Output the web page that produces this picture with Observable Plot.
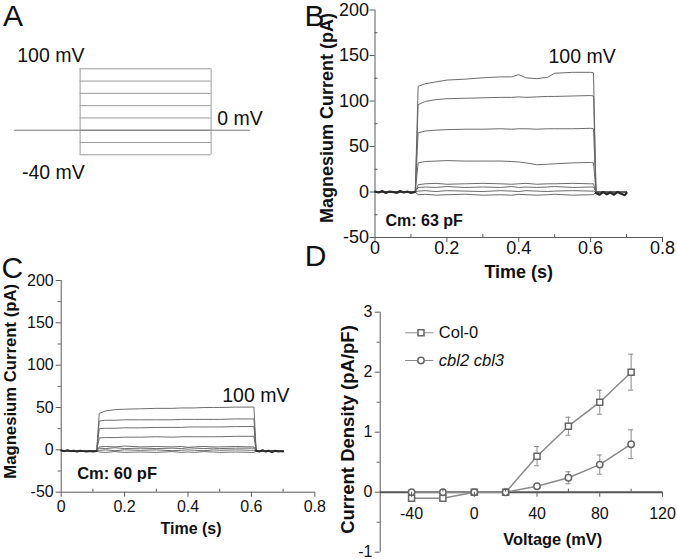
<!DOCTYPE html>
<html><head><meta charset="utf-8">
<script src="https://cdn.jsdelivr.net/npm/d3@7"></script>
<script src="https://cdn.jsdelivr.net/npm/@observablehq/plot@0.6"></script>
<style>
html,body{margin:0;padding:0;background:#fff;}
#fig{position:relative;width:677px;height:559px;overflow:hidden;font-family:"Liberation Sans",Arial,sans-serif;background:#fff;}
#fig svg{position:absolute;left:0;top:0;}
.lbl{position:absolute;font-size:30px;line-height:30px;color:#111;}
</style></head><body>
<div id="fig">
  <div class="lbl" style="left:3px;top:1px">A</div>
  <div class="lbl" style="left:304.5px;top:0.5px">B</div>
  <div class="lbl" style="left:1.5px;top:253px">C</div>
  <div class="lbl" style="left:304.7px;top:241.1px">D</div>
</div>
<script>
// ---------- Panel A: voltage protocol ----------
const stepVoltages = [-40, -20, 0, 20, 40, 60, 80, 100];
const holdingVoltage = [0];
const stepWindow = [0.1, 0.6];
const holdingWindow = [-0.15, 0.75];

// ---------- Panels B & C: current traces (time in s, current in pA) ----------
const traceTime = [0, 0.112, 0.12, 0.14, 0.17, 0.2, 0.25, 0.3, 0.35, 0.38, 0.4, 0.42, 0.45, 0.48, 0.5, 0.55, 0.6, 0.608, 0.615, 0.7];
const currentB100 = [0, 0, 116, 119, 121, 123, 124, 125.5, 126.5, 126.5, 129, 125.5, 124.5, 126, 130.5, 131.5, 131.5, 131, 0, 0];
const currentB80  = [0, 0, 96, 99.5, 101.5, 102.5, 103, 103.5, 104, 104, 104.5, 104, 104.5, 105, 105, 105.5, 106, 105.5, 0, 0];
const currentB60  = [0, 0, 65, 67, 68, 68.5, 69, 69, 69.5, 69, 69.5, 69.5, 69, 69.5, 69.5, 69.5, 70, 69.5, 0, 0];
const currentB40  = [0, 0, 32, 33.5, 34, 34.5, 34, 34, 34, 33.5, 33, 32, 30, 30.5, 31, 32, 32.5, 32, 0, 0];
const currentB20  = [0, 0, 8, 9, 9.5, 8.5, 9, 9.5, 9, 8.5, 9, 9.5, 8.5, 9, 9, 9.5, 9, 9, 0, 0];
const currentB0   = [0, 0, 5, 5.5, 5, 6, 5, 5.5, 5, 6, 5, 5.5, 5, 5.5, 6, 5, 5.5, 5.5, 0, 0];
const currentBm20 = [0, 0, 1, 1.5, 0.5, 1.5, 1, 0.5, 1.5, 1, 0.5, 1.5, 1, 0.5, 1, 1.5, 1, 1, 0, 0];
const currentBm40 = [0, 0, -3, -2.5, -3.5, -3, -2.5, -3.5, -3, -3.5, -2.5, -3, -3.5, -3, -2.5, -3.5, -3, -3, 0, 0];

const currentC100 = [-1, -1, 43, 46, 47.5, 48, 48.5, 49, 49, 49.5, 49.5, 49.5, 50, 50, 50, 50.5, 50.5, 50.5, -1, -1.5];
const currentC80  = [-1, -1, 34, 35, 35, 35.5, 35.5, 35.5, 35.5, 36, 36, 36, 36, 36, 36, 36.5, 36.5, 36.5, -1, -1.5];
const currentC60  = [-1, -1, 25, 25.5, 25.5, 26, 26, 26.5, 26.5, 26.5, 27, 27, 27, 27, 27, 27.5, 27.5, 27.5, -1, -1.5];
const currentC40  = [-1, -1, 14, 14.5, 14.5, 15, 15, 15.5, 15, 15.5, 15.5, 15.5, 15.5, 15.5, 15.5, 16, 16, 16, -1, -1.5];
const currentC20  = [-1, -1, 3.5, 4, 3.5, 4.5, 3.5, 4, 3.5, 4, 3, 3.5, 4, 3.5, 3.5, 4, 3.5, 3.5, -1, -1.5];
const currentC0   = [-1, -1, 2, 1.5, 2.5, 1.5, 2, 1.5, 2, 1.5, 2.5, 2, 1.5, 2, 1.5, 2, 2, 2, -1, -1.5];
const currentCm20 = [-1, -1, -0.5, 0, -1, 0, -0.5, 0, -1, -0.5, 0, -0.5, -1, 0, -0.5, 0, -0.5, -0.5, -1, -1.5];
const currentCm40 = [-1, -1, -2.5, -3, -2, -3, -2.5, -3, -2, -3, -2.5, -3, -2, -2.5, -3, -2.5, -3, -3, -1, -1.5];

// baseline noise (holding segments)
const noiseTimePre  = [0, 0.01, 0.02, 0.03, 0.04, 0.05, 0.06, 0.07, 0.08, 0.09, 0.1, 0.112];
const noiseTimePost = [0.615, 0.625, 0.635, 0.645, 0.655, 0.665, 0.675, 0.685, 0.695, 0.7];
const noiseBPre  = [0.5, -0.5, 1, -1, 0.5, 0, -1, 1, -0.5, 0.5, -1, 0];
const noiseBPost = [-1, -3, 0, -2.5, -0.5, -3, 0, -2, -3.5, -1];
const noiseCPre  = [-0.5, -1.5, -0.5, -1.5, -1, -2, -1, -1.5, -2, -1.5, -2, -1.5];
const noiseCPost = [-1, -2, -0.5, -2, -1, -2.5, -1, -2, -1.5, -2];

// axis ticks
const currentTicks = [-50, 0, 50, 100, 150, 200];
const currentMinor = [-25, 25, 75, 125, 175];
const timeTicks = [0, 0.2, 0.4, 0.6, 0.8];
const timeMinor = [0.1, 0.3, 0.5, 0.7];

// ---------- Panel D: I-V curves ----------
const voltageD = [-40, -20, 0, 20, 40, 60, 80, 100];
const col0Mean = [-0.1, -0.1, 0, 0, 0.6, 1.1, 1.5, 2.0];
const col0Err  = [0.03, 0.03, 0.02, 0.02, 0.16, 0.15, 0.2, 0.3];
const cblMean  = [0, 0, 0, 0, 0.1, 0.24, 0.46, 0.8];
const cblErr   = [0.02, 0.02, 0.02, 0.02, 0.03, 0.1, 0.16, 0.24];
const seriesNames = ["Col-0", "cbl2 cbl3"];
const voltTicks = [-40, 0, 40, 80, 120];
const voltMinor = [-20, 20, 60, 100];
const densTicks = [-1, 0, 1, 2, 3];
const densMinor = [-0.5, 0.5, 1.5, 2.5];

// ---------- helpers ----------
const FONT = '"Liberation Sans", Arial, Helvetica, sans-serif';
const AXIS = "#5a5a5a";
const INK = "#111";
const base = {width: 677, height: 559, style: {background: "transparent", fontFamily: FONT, overflow: "visible"}};
const rows = (time, vals, v) => time.map((t, k) => ({t, i: vals[k], v}));
const fmt = d => `${d}`;
const fmtTime = d => d === 0 ? "0" : d.toFixed(1);
const MID = {lineAnchor: "middle"};

const tracesB = [
  ...rows(traceTime, currentBm40, -40), ...rows(traceTime, currentBm20, -20),
  ...rows(traceTime, currentB0, 0), ...rows(traceTime, currentB20, 20),
  ...rows(traceTime, currentB40, 40), ...rows(traceTime, currentB60, 60),
  ...rows(traceTime, currentB80, 80), ...rows(traceTime, currentB100, 100)
];
const tracesC = [
  ...rows(traceTime, currentCm40, -40), ...rows(traceTime, currentCm20, -20),
  ...rows(traceTime, currentC0, 0), ...rows(traceTime, currentC20, 20),
  ...rows(traceTime, currentC40, 40), ...rows(traceTime, currentC60, 60),
  ...rows(traceTime, currentC80, 80), ...rows(traceTime, currentC100, 100)
];
const noiseB = [...rows(noiseTimePre, noiseBPre, "pre"), ...rows(noiseTimePost, noiseBPost, "post")];
const noiseC = [...rows(noiseTimePre, noiseCPre, "pre"), ...rows(noiseTimePost, noiseCPost, "post")];

const col0 = voltageD.map((v, k) => ({v, m: col0Mean[k], e: col0Err[k]}));
const cbl = voltageD.map((v, k) => ({v, m: cblMean[k], e: cblErr[k]}));

const fig = document.getElementById("fig");

// ---------- Panel A ----------
fig.append(Plot.plot({
  ...base,
  marginLeft: 1, marginRight: 414, marginTop: 56, marginBottom: 392.4,
  x: {domain: [-0.2, 0.8], axis: null},
  y: {domain: [-60, 120], axis: null},
  marks: [
    Plot.ruleY(stepVoltages, {x1: stepWindow[0], x2: stepWindow[1], stroke: "#9a9a9a"}),
    Plot.ruleY(holdingVoltage, {x1: holdingWindow[0], x2: holdingWindow[1], stroke: "#777"}),
    Plot.ruleX(stepWindow, {y1: d3.min(stepVoltages), y2: d3.max(stepVoltages), stroke: "#9a9a9a"}),
    Plot.text([`${d3.max(stepVoltages)} mV`], {x: -0.14, y: d3.max(stepVoltages), dy: -13, textAnchor: "start", fontSize: 19.5, fill: INK, ...MID}),
    Plot.text([`${holdingVoltage[0]} mV`], {x: 0.623, y: holdingVoltage[0], dy: -11, textAnchor: "start", fontSize: 19.5, fill: INK, ...MID}),
    Plot.text([`${d3.min(stepVoltages)} mV`], {x: -0.122, y: d3.min(stepVoltages), dy: 18, textAnchor: "start", fontSize: 19.5, fill: INK, ...MID})
  ]
}));

// ---------- Panel B ----------
fig.append(Plot.plot({
  ...base,
  marginLeft: 374.5, marginRight: 15, marginTop: 9.5, marginBottom: 322,
  x: {domain: [0, 0.8]},
  y: {domain: [-50, 200]},
  marks: [
    Plot.ruleX([0], {stroke: AXIS}),
    Plot.ruleY([-50], {stroke: AXIS}),
    Plot.axisY({ticks: currentTicks, tickSize: 5, tickPadding: 1, fontSize: 18, stroke: AXIS, fill: INK, tickFormat: fmt, label: null}),
    Plot.axisY({ticks: currentMinor, tickSize: -3, stroke: AXIS, fill: "none", label: null}),
    Plot.axisX({ticks: timeTicks, tickSize: 5, tickPadding: -1, fontSize: 18, stroke: AXIS, fill: INK, tickFormat: fmtTime, label: null}),
    Plot.axisX({ticks: timeMinor, tickSize: -3, stroke: AXIS, fill: "none", label: null}),
    Plot.line(tracesB, {x: "t", y: "i", z: "v", stroke: "#636363", strokeWidth: 0.95}),
    Plot.line(noiseB, {x: "t", y: "i", z: "v", stroke: "#2a2a2a", strokeWidth: 2.2}),
    Plot.text(["Magnesium Current (pA)"], {frameAnchor: "left", textAnchor: "middle", rotate: -90, dx: -47.8, dy: -5.8, fontSize: 18, fontWeight: "bold", fill: INK, ...MID}),
    Plot.text(["Time (s)"], {frameAnchor: "bottom", dy: 34.7, fontSize: 18, fontWeight: "bold", fill: INK, ...MID}),
    Plot.text(["Cm: 63 pF"], {frameAnchor: "bottom-left", dx: 10.5, dy: -17, textAnchor: "start", fontSize: 16, fontWeight: "bold", fill: INK, ...MID}),
    Plot.text(["100 mV"], {frameAnchor: "top-left", dx: 173.5, dy: 47.2, textAnchor: "start", fontSize: 19.5, fill: INK, ...MID})
  ]
}));

// ---------- Panel C ----------
fig.append(Plot.plot({
  ...base,
  marginLeft: 60.7, marginRight: 362.7, marginTop: 280, marginBottom: 67.3,
  x: {domain: [0, 0.8]},
  y: {domain: [-50, 200]},
  marks: [
    Plot.ruleX([0], {stroke: AXIS}),
    Plot.ruleY([-50], {stroke: AXIS}),
    Plot.axisY({ticks: currentTicks, tickSize: 5, tickPadding: 2.5, fontSize: 16, stroke: AXIS, fill: INK, tickFormat: fmt, label: null}),
    Plot.axisY({ticks: currentMinor, tickSize: 3, stroke: AXIS, fill: "none", label: null}),
    Plot.axisX({ticks: timeTicks, tickSize: 5, tickPadding: 3, fontSize: 16, stroke: AXIS, fill: INK, tickFormat: fmtTime, label: null}),
    Plot.axisX({ticks: timeMinor, tickSize: -3, stroke: AXIS, fill: "none", label: null}),
    Plot.line(tracesC, {x: "t", y: "i", z: "v", stroke: "#666", strokeWidth: 0.95}),
    Plot.line(noiseC, {x: "t", y: "i", z: "v", stroke: "#2a2a2a", strokeWidth: 2}),
    Plot.text(["Magnesium Current (pA)"], {frameAnchor: "left", textAnchor: "middle", rotate: -90, dx: -50.7, dy: -5, fontSize: 16.7, fontWeight: "bold", fill: INK, ...MID}),
    Plot.text(["Time (s)"], {frameAnchor: "bottom", dx: 3, dy: 36.3, fontSize: 16, fontWeight: "bold", fill: INK, ...MID}),
    Plot.text(["Cm: 60 pF"], {frameAnchor: "bottom-left", dx: 16, dy: -18.4, textAnchor: "start", fontSize: 16.5, fontWeight: "bold", fill: INK, ...MID}),
    Plot.text(["100 mV"], {frameAnchor: "top-left", dx: 161, dy: 115, textAnchor: "start", fontSize: 19.5, fill: INK, ...MID})
  ]
}));

// ---------- Panel D ----------
const dMargins = {marginLeft: 379.7, marginRight: 15};
fig.append(Plot.plot({
  ...base, ...dMargins,
  marginTop: 311.7, marginBottom: 7.3,
  x: {domain: [-60, 120], axis: null},
  y: {domain: [-1, 3]},
  marks: [
    Plot.ruleX([-60], {stroke: AXIS}),
    Plot.axisY({ticks: densTicks, tickSize: 5, tickPadding: 2.7, fontSize: 16, stroke: AXIS, fill: INK, tickFormat: fmt, label: null}),
    Plot.axisY({ticks: densMinor, tickSize: 3, stroke: AXIS, fill: "none", label: null}),
    Plot.ruleY([0], {stroke: "#555", strokeWidth: 2}),
    Plot.line(col0, {x: "v", y: "m", stroke: "#8a8a8a"}),
    Plot.line(cbl, {x: "v", y: "m", stroke: "#8a8a8a"}),
    Plot.ruleX(col0, {x: "v", y1: d => d.m - d.e, y2: d => d.m + d.e, stroke: "#8a8a8a"}),
    Plot.ruleY(col0, {y: d => d.m + d.e, x1: "v", x2: "v", insetLeft: -2.5, insetRight: -2.5, stroke: "#8a8a8a"}),
    Plot.ruleY(col0, {y: d => d.m - d.e, x1: "v", x2: "v", insetLeft: -2.5, insetRight: -2.5, stroke: "#8a8a8a"}),
    Plot.ruleX(cbl, {x: "v", y1: d => d.m - d.e, y2: d => d.m + d.e, stroke: "#8a8a8a"}),
    Plot.ruleY(cbl, {y: d => d.m + d.e, x1: "v", x2: "v", insetLeft: -2.5, insetRight: -2.5, stroke: "#8a8a8a"}),
    Plot.ruleY(cbl, {y: d => d.m - d.e, x1: "v", x2: "v", insetLeft: -2.5, insetRight: -2.5, stroke: "#8a8a8a"}),
    Plot.dot(col0, {x: "v", y: "m", symbol: "square", r: 3.4, stroke: "#666", fill: "white"}),
    Plot.dot(cbl, {x: "v", y: "m", symbol: "circle", r: 3.2, stroke: "#666", fill: "white"}),
    // legend
    Plot.ruleY([2.657], {x1: -43.8, x2: -25.8, stroke: "#8a8a8a"}),
    Plot.ruleY([2.195], {x1: -43.8, x2: -25.8, stroke: "#8a8a8a"}),
    Plot.dot([seriesNames[0]], {x: -34, y: 2.657, symbol: "square", r: 3.4, stroke: "#666", fill: "white"}),
    Plot.dot([seriesNames[1]], {x: -34, y: 2.195, symbol: "circle", r: 3.2, stroke: "#666", fill: "white"}),
    Plot.text([seriesNames[0]], {x: -22.6, y: 2.657, textAnchor: "start", fontSize: 16.5, fill: INK, ...MID}),
    Plot.text([seriesNames[1]], {x: -22.6, y: 2.195, textAnchor: "start", fontSize: 16.5, fontStyle: "italic", fill: INK, ...MID}),
    // titles
    Plot.text(["Current Density (pA/pF)"], {frameAnchor: "left", textAnchor: "middle", rotate: -90, dx: -32.2, dy: -2.7, fontSize: 18.5, fontWeight: "bold", fill: INK, ...MID}),
    Plot.text(["Voltage (mV)"], {x: 50, frameAnchor: "bottom", dy: -12.7, fontSize: 16.4, fontWeight: "bold", fill: INK, ...MID})
  ]
}));

// Panel D x axis (drawn at current density = 0)
fig.append(Plot.plot({
  ...base, ...dMargins,
  marginTop: 311.7, marginBottom: 67.3,
  x: {domain: [-60, 120]},
  marks: [
    Plot.axisX({ticks: voltTicks, tickSize: 5, tickPadding: 10, fontSize: 16, stroke: AXIS, fill: INK, tickFormat: fmt, label: null}),
    Plot.axisX({ticks: voltMinor, tickSize: -3, stroke: AXIS, fill: "none", label: null})
  ]
}));
</script>
</body></html>
